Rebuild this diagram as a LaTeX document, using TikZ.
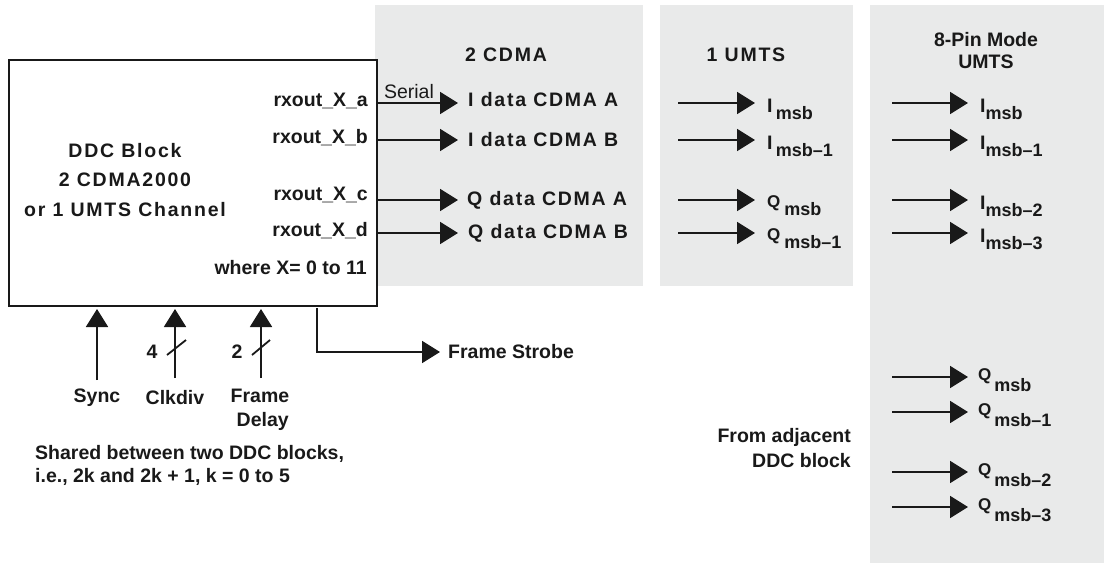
\documentclass[tikz,border=0pt]{standalone}
\usepackage{fontspec}
\setmainfont{Liberation Sans}
\usetikzlibrary{arrows.meta}
\definecolor{panel}{RGB}{233,234,234}
\newcommand\sublow[2]{\raisebox{-#1pt}{\fontsize{18}{18}\selectfont #2}}
\newcommand\smallQ{{\fontsize{17}{17}\selectfont Q}}
\newcommand\spaced{\addfontfeatures{LetterSpace=9}}
\begin{document}
\begin{tikzpicture}[x=1pt,y=-1pt,
  every node/.style={font=\fontsize{19.5}{29}\selectfont\bfseries, inner sep=0pt, text=black!90},
  arr/.style={line width=1.8pt, black!90, -{Triangle[length=18pt,width=22pt]}},
  ln/.style={line width=1.8pt, black!90},
  lbl/.style={anchor=base west},
  rlbl/.style={anchor=base east}]
\useasboundingbox (0,0) rectangle (1104,563);
% panels
\fill[panel] (375,5) rectangle (643,286);
\fill[panel] (660,5) rectangle (853,286);
\fill[panel] (870,5) rectangle (1104,563);
% DDC block
\node[draw=black!90, line width=2pt, fill=white, minimum width=368pt, minimum height=246pt, anchor=north west] (ddc) at (8,59) {};
\node[align=center, font=\fontsize{19.5}{29.5}\selectfont\bfseries\spaced] (ddct) at (125,180) {DDC Block\\2 CDMA2000\\or 1 UMTS Channel};
\node[rlbl] (oa) at (368,106) {rxout\_X\_a};
\node[rlbl] (ob) at (368,143) {rxout\_X\_b};
\node[rlbl] (oc) at (368,200) {rxout\_X\_c};
\node[rlbl] (od) at (368,236) {rxout\_X\_d};
\node[rlbl] (wx) at (367,274) {where X= 0 to 11};
% panel 1
\node (h1) at (506,55) {\spaced 2 CDMA};
\node (serial) at (409,92) {\mdseries Serial};
\node[anchor=west] (ia) at (468,100) {\spaced I data CDMA A};
\node[anchor=west] (ib) at (468,140) {\spaced I data CDMA B};
\node[anchor=west] (qa) at (467,200) {\spaced Q data CDMA A};
\node[anchor=west] (qb) at (468,233) {\spaced Q data CDMA B};
\coordinate (ta) at (458,103);
\coordinate (tb) at (458,140);
\coordinate (tc) at (458,200);
\coordinate (td) at (458,233);
\draw[arr] (ddc.east |- ta) -- (ta);
\draw[arr] (ddc.east |- tb) -- (tb);
\draw[arr] (ddc.east |- tc) -- (tc);
\draw[arr] (ddc.east |- td) -- (td);
% panel 2
\node (h2) at (746,55) {\spaced 1 UMTS};
\foreach \y/\n in {103/a,140/b,200/c,233/d}{
  \coordinate (p2s\n) at (678,\y);
  \coordinate (p2t\n) at (755,\y);
  \draw[arr] (p2s\n) -- (p2t\n);
}
\node[lbl] (u1) at (767,112) {I\,\sublow{7}{msb}};
\node[lbl] (u2) at (767,149) {I\,\sublow{7}{msb--1}};
\node[lbl] (u3) at (767,207) {\smallQ\hspace{4pt}\sublow{8}{msb}};
\node[lbl] (u4) at (767,240) {\smallQ\hspace{4pt}\sublow{8}{msb--1}};
% panel 3
\node[align=center, font=\fontsize{19.5}{22}\selectfont\bfseries] (h3) at (986,51) {8-Pin Mode\\UMTS};
\foreach \y/\n in {103/a,140/b,200/c,233/d,377/e,412/f,472/g,507/h}{
  \coordinate (p3s\n) at (892,\y);
  \coordinate (p3t\n) at (968,\y);
  \draw[arr] (p3s\n) -- (p3t\n);
}
\node[lbl] (v1) at (980,112) {I\sublow{7}{msb}};
\node[lbl] (v2) at (980,149) {I\sublow{7}{msb--1}};
\node[lbl] (v3) at (980,209) {I\sublow{7}{msb--2}};
\node[lbl] (v4) at (980,242) {I\sublow{7}{msb--3}};
\node[lbl] (w1) at (978,380) {\smallQ\hspace{3pt}\sublow{11}{msb}};
\node[lbl] (w2) at (978,415) {\smallQ\hspace{3pt}\sublow{11}{msb--1}};
\node[lbl] (w3) at (978,475) {\smallQ\hspace{3pt}\sublow{11}{msb--2}};
\node[lbl] (w4) at (978,510) {\smallQ\hspace{3pt}\sublow{11}{msb--3}};
\node[align=right, anchor=east, font=\fontsize{19.5}{25}\selectfont\bfseries] (adj) at (851,448) {From adjacent\\DDC block};
% bottom inputs
\coordinate (s0) at (97,380);
\coordinate (c0) at (175,378);
\coordinate (f0) at (261,378);
\draw[arr] (s0) -- ([yshift=-2pt]ddc.south -| s0);
\draw[arr] (c0) -- ([yshift=-2pt]ddc.south -| c0);
\draw[arr] (f0) -- ([yshift=-2pt]ddc.south -| f0);
\draw[ln] (167,355) -- (186,340);
\draw[ln] (252,355) -- (270,340);
\node (n4) at (152,352) {4};
\node (n2) at (237,352) {2};
\node (sync) at (97,398) {Sync};
\node (clk) at (175,398) {Clkdiv};
\node[align=center, font=\fontsize{19.5}{24}\selectfont\bfseries] (fd) at (260,410) {Frame\\\ Delay};
\node[align=left, anchor=west, font=\fontsize{19.5}{23}\selectfont\bfseries] (shared) at (35,465) {Shared between two DDC blocks,\\i.e., 2k and 2k + 1, k = 0 to 5};
% frame strobe
\coordinate (fs0) at (317,308);
\node[anchor=west] (fst) at (448,352) {Frame Strobe};
\draw[arr, shorten >=8pt] (fs0) -- (fs0 |- fst.west) -- (fst.west);
\end{tikzpicture}
\end{document}
